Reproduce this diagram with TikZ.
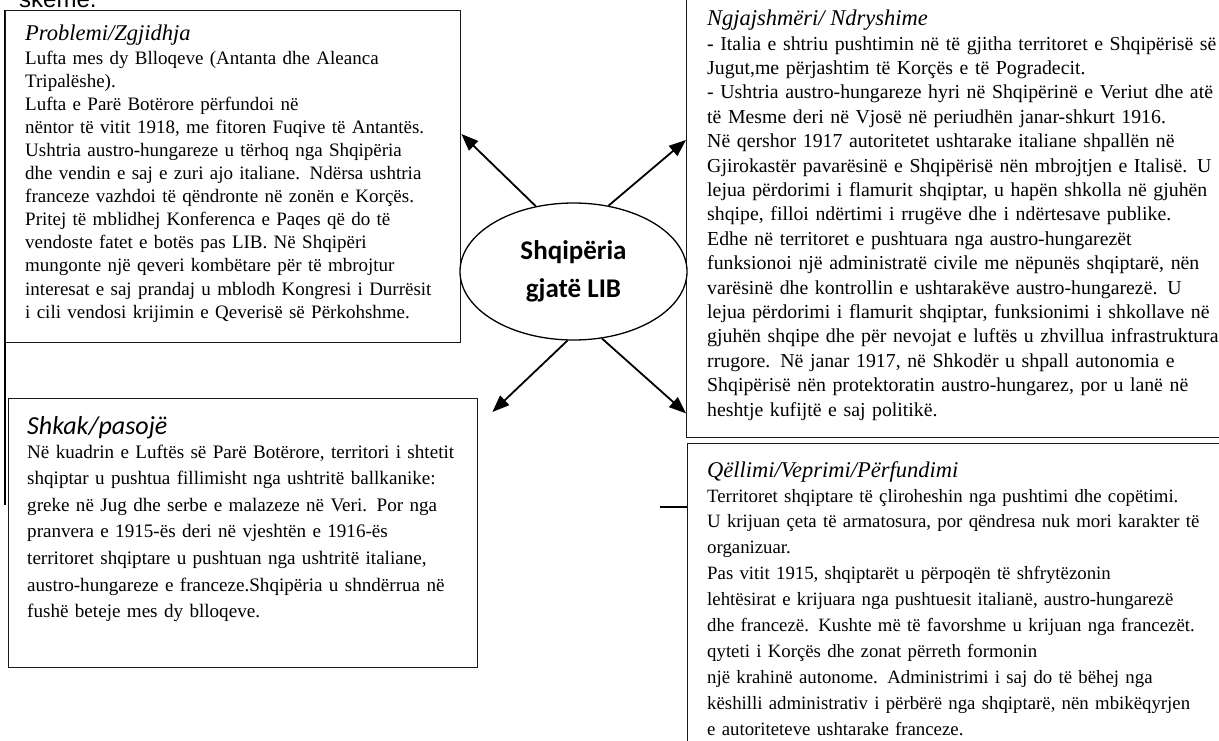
\documentclass[tikz,border=0pt]{standalone}
\usepackage{fontspec}
\setmainfont{Liberation Serif}
\newfontfamily\calfont{Carlito}
\newfontfamily\arialfont{Liberation Sans}
\usetikzlibrary{shapes.geometric, arrows.meta, positioning}

\tikzset{
    panel/.style={draw=black!90, line width=1.4pt, fill=white, inner sep=0pt},
    arr/.style={-{Triangle[length=17pt,width=13pt]}, line width=1.8pt},
    headtxt/.style={anchor=base west, inner sep=0pt, font=\itshape\fontsize{22.5}{26}\selectfont},
    bodytxt/.style={anchor=base west, inner sep=0pt, align=left, text width=530pt},
}

\begin{document}
\begin{tikzpicture}[x=1pt, y=-1pt]
    \useasboundingbox (0,0) rectangle (1219,740);
    \clip (0,0) rectangle (1219,740);

    % Cut-off line of the page above
    \node[anchor=base west, inner sep=0pt, font=\arialfont\fontsize{24}{28}\selectfont] (skeme) at (19,7) {skeme.};

    % Frame lines
    \draw[line width=1.4pt] (5,10) -- (5,505);
    \draw[line width=1.4pt] (660,507) -- (687,507);

    % Boxes
    \node[panel, anchor=north west, minimum width=455pt, minimum height=332pt] (prob) at (5,10) {};
    \node[panel, anchor=north west, minimum width=560pt, minimum height=457pt] (ngj) at (686,-20) {};
    \node[panel, anchor=north west, minimum width=469pt, minimum height=269pt] (shk) at (8,398) {};
    \node[panel, anchor=north west, minimum width=560pt, minimum height=320pt] (qel) at (687,443) {};

    % Centre
    \node[ellipse, draw, line width=1.3pt, fill=white, minimum width=227pt, minimum height=137pt, inner sep=0pt,
          align=center, font=\calfont\bfseries\fontsize{27}{38}\selectfont] (ell) at (573.5,271.5) {Shqipëria\\gjatë LIB};

    % Box 1: Problemi/Zgjidhja
    \node[headtxt] (probT) at (25,40) {Problemi/Zgjidhja};
    \node[bodytxt, font=\fontsize{19}{23.1}\selectfont] (probB) at (25,64) {%
        Lufta mes dy Blloqeve (Antanta dhe Aleanca\\
        Tripalëshe).\\
        Lufta e Parë Botërore përfundoi në\\
        nëntor të vitit 1918, me fitoren Fuqive të Antantës.\\
        Ushtria austro-hungareze u tërhoq nga Shqipëria\\
        dhe vendin e saj e zuri ajo italiane. Ndërsa ushtria\\
        franceze vazhdoi të qëndronte në zonën e Korçës.\\
        Pritej të mblidhej Konferenca e Paqes që do të\\
        vendoste fatet e botës pas LIB. Në Shqipëri\\
        mungonte një qeveri kombëtare për të mbrojtur\\
        interesat e saj prandaj u mblodh Kongresi i Durrësit\\
        i cili vendosi krijimin e Qeverisë së Përkohshme.};

    % Box 2: Ngjajshmëri/ Ndryshime
    \node[headtxt] (ngjT) at (707,25) {Ngjajshmëri/ Ndryshime};
    \node[bodytxt, font=\fontsize{19.8}{24.4}\selectfont] (ngjB) at (707,50) {%
        \textbf{-} Italia e shtriu pushtimin në të gjitha territoret e Shqipërisë së\\
        Jugut,me përjashtim të Korçës e të Pogradecit.\\
        - Ushtria austro-hungareze hyri në Shqipërinë e Veriut dhe atë\\
        të Mesme deri në Vjosë në periudhën janar-shkurt 1916.\\
        Në qershor 1917 autoritetet ushtarake italiane shpallën në\\
        Gjirokastër pavarësinë e Shqipërisë nën mbrojtjen e Italisë. U\\
        lejua përdorimi i flamurit shqiptar, u hapën shkolla në gjuhën\\
        shqipe, filloi ndërtimi i rrugëve dhe i ndërtesave publike.\\
        Edhe në territoret e pushtuara nga austro-hungarezët\\
        funksionoi një administratë civile me nëpunës shqiptarë, nën\\
        varësinë dhe kontrollin e ushtarakëve austro-hungarezë. U\\
        lejua përdorimi i flamurit shqiptar, funksionimi i shkollave në\\
        gjuhën shqipe dhe për nevojat e luftës u zhvillua infrastruktura\\
        rrugore. Në janar 1917, në Shkodër u shpall autonomia e\\
        Shqipërisë nën protektoratin austro-hungarez, por u lanë në\\
        heshtje kufijtë e saj politikë.};

    % Box 3: Shkak/pasojë
    \node[headtxt, font=\calfont\itshape\fontsize{26}{30}\selectfont] (shkT) at (27,434) {Shkak/pasojë};
    \node[bodytxt, font=\fontsize{19.1}{26.6}\selectfont] (shkB) at (27,458) {%
        Në kuadrin e Luftës së Parë Botërore, territori i shtetit\\
        shqiptar u pushtua fillimisht nga ushtritë ballkanike:\\
        greke në Jug dhe serbe e malazeze në Veri. Por nga\\
        pranvera e 1915-ës deri në vjeshtën e 1916-ës\\
        territoret shqiptare u pushtuan nga ushtritë italiane,\\
        austro-hungareze e franceze.Shqipëria u shndërrua në\\
        fushë beteje mes dy blloqeve.};

    % Box 4: Qëllimi/Veprimi/Përfundimi
    \node[headtxt] (qelT) at (707,477) {Qëllimi/Veprimi/Përfundimi};
    \node[bodytxt, font=\fontsize{18.8}{25.9}\selectfont] (qelB) at (707,502) {%
        Territoret shqiptare të çliroheshin nga pushtimi dhe copëtimi.\\
        U krijuan çeta të armatosura, por qëndresa nuk mori karakter të\\
        organizuar.\\
        Pas vitit 1915, shqiptarët u përpoqën të shfrytëzonin\\
        lehtësirat e krijuara nga pushtuesit italianë, austro-hungarezë\\
        dhe francezë. Kushte më të favorshme u krijuan nga francezët.\\
        qyteti i Korçës dhe zonat përreth formonin\\
        një krahinë autonome. Administrimi i saj do të bëhej nga\\
        këshilli administrativ i përbërë nga shqiptarë, nën mbikëqyrjen\\
        e autoriteteve ushtarake franceze.};

    % Arrows from the centre
    \coordinate (tipA) at ([yshift=-124pt]prob.north east);
    \coordinate (tipB) at ([yshift=-160pt]ngj.north west);
    \coordinate (tipC) at ([xshift=14pt, yshift=-14pt]shk.north east);
    \coordinate (tipD) at ([yshift=25pt]ngj.south west);
    \draw[arr] (ell.120) -- (tipA);
    \draw[arr] (ell.62) -- (tipB);
    \draw[arr] (ell.265) -- (tipC);
    \draw[arr] (ell.293) -- (tipD);
\end{tikzpicture}
\end{document}
